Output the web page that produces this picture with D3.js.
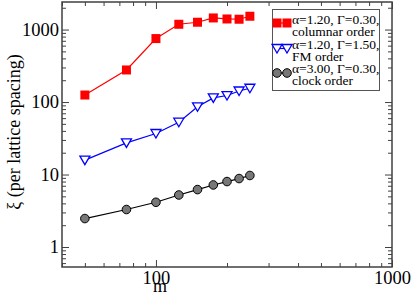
<!DOCTYPE html>
<html>
<head>
<meta charset="utf-8">
<script src="https://cdn.jsdelivr.net/npm/d3@7"></script>
<style>
  body { margin: 0; background: #fff; }
  svg text { font-family: "Liberation Serif", "Times New Roman", "DejaVu Serif", serif; }
</style>
</head>
<body>
<div id="chart"></div>
<script>
const mValues = [50, 75, 100, 125, 150, 175, 200, 225, 250];
const columnarXi = [125, 277, 751, 1183, 1262, 1446, 1400, 1388, 1527];
const fmXi = [15.8, 27.3, 36.8, 52.7, 85.9, 114, 123, 142, 155];
const clockXi = [2.47, 3.29, 4.14, 5.22, 6.2, 7.18, 8.0, 8.8, 9.7];
const legendLines = [
  ['α=1.20, Γ=0.30,', 'columnar order'],
  ['α=1.20, Γ=1.50,', 'FM order'],
  ['α=3.00, Γ=0.30,', 'clock order']
];
const xMajor = [100, 1000];
const yMajor = [1, 10, 100, 1000];

const width = 411, height = 296;
const frame = { left: 62, right: 392, top: 2, bottom: 267 };

const svg = d3.select('#chart').append('svg')
  .attr('width', width)
  .attr('height', height);

const x = d3.scaleLog().domain([40, 1000]).range([frame.left, frame.right]);
const y = d3.scaleLog().domain([0.53, 2400]).range([frame.bottom, frame.top]);

const minorX = [];
[10, 100].forEach(function (d) {
  for (let k = 2; k <= 9; k++) {
    const v = d * k;
    if (v >= 40 && v <= 1000) minorX.push(v);
  }
});
const minorY = [];
[0.1, 1, 10, 100, 1000].forEach(function (d) {
  for (let k = 2; k <= 9; k++) {
    const v = d * k;
    if (v >= 0.53 && v <= 2400) minorY.push(v);
  }
});

const axisColor = '#404040';

function styleAxis(g) {
  g.select('.domain').remove();
  g.selectAll('.tick line').attr('stroke', axisColor).attr('stroke-width', 1);
  g.selectAll('.tick text')
    .attr('fill', '#000')
    .attr('font-family', '"Liberation Serif", "Times New Roman", serif')
    .attr('font-size', 18.5);
}

// bottom axis
svg.append('g')
  .attr('transform', 'translate(0,' + frame.bottom + ')')
  .call(d3.axisBottom(x).tickValues(xMajor).tickFormat(d3.format('d')).tickSizeInner(-7).tickPadding(4))
  .call(styleAxis);
svg.append('g')
  .attr('transform', 'translate(0,' + frame.bottom + ')')
  .call(d3.axisBottom(x).tickValues(minorX).tickFormat('').tickSizeInner(-4))
  .call(styleAxis);
// top axis
svg.append('g')
  .attr('transform', 'translate(0,' + frame.top + ')')
  .call(d3.axisTop(x).tickValues(xMajor).tickFormat('').tickSizeInner(-7))
  .call(styleAxis);
svg.append('g')
  .attr('transform', 'translate(0,' + frame.top + ')')
  .call(d3.axisTop(x).tickValues(minorX).tickFormat('').tickSizeInner(-4))
  .call(styleAxis);
// left axis
svg.append('g')
  .attr('transform', 'translate(' + frame.left + ',0)')
  .call(d3.axisLeft(y).tickValues(yMajor).tickFormat(d3.format('d')).tickSizeInner(-7).tickPadding(3))
  .call(styleAxis);
svg.append('g')
  .attr('transform', 'translate(' + frame.left + ',0)')
  .call(d3.axisLeft(y).tickValues(minorY).tickFormat('').tickSizeInner(-4))
  .call(styleAxis);
// right axis
svg.append('g')
  .attr('transform', 'translate(' + frame.right + ',0)')
  .call(d3.axisRight(y).tickValues(yMajor).tickFormat('').tickSizeInner(-7))
  .call(styleAxis);
svg.append('g')
  .attr('transform', 'translate(' + frame.right + ',0)')
  .call(d3.axisRight(y).tickValues(minorY).tickFormat('').tickSizeInner(-4))
  .call(styleAxis);

// frame
svg.append('rect')
  .attr('x', frame.left)
  .attr('y', frame.top)
  .attr('width', frame.right - frame.left)
  .attr('height', frame.bottom - frame.top)
  .attr('fill', 'none')
  .attr('stroke', axisColor)
  .attr('stroke-width', 1.5);

// axis titles
svg.append('text')
  .attr('x', 160)
  .attr('y', 292)
  .attr('text-anchor', 'middle')
  .attr('font-size', 18)
  .text('m');
svg.append('text')
  .attr('transform', 'translate(20,132) rotate(-90)')
  .attr('text-anchor', 'middle')
  .attr('font-size', 18)
  .text('ξ (per lattice spacing)');

const line = d3.line()
  .x(function (d) { return x(d[0]); })
  .y(function (d) { return y(d[1]); });

const series = [
  { values: columnarXi, color: '#ff0000', marker: 'square' },
  { values: fmXi, color: '#0000ff', marker: 'triangle' },
  { values: clockXi, color: '#000000', marker: 'circle' }
];

function drawMarker(g, type, cx, cy) {
  if (type === 'square') {
    g.append('rect')
      .attr('x', cx - 4.5).attr('y', cy - 4.5)
      .attr('width', 9).attr('height', 9)
      .attr('fill', '#ff0000');
  } else if (type === 'triangle') {
    g.append('path')
      .attr('d', 'M' + (cx - 5) + ',' + (cy - 4) + 'L' + (cx + 5) + ',' + (cy - 4) + 'L' + cx + ',' + (cy + 4.5) + 'Z')
      .attr('fill', '#fff')
      .attr('stroke', '#0000ff')
      .attr('stroke-width', 1.3);
  } else {
    g.append('circle')
      .attr('cx', cx).attr('cy', cy).attr('r', 4.3)
      .attr('fill', '#777777')
      .attr('stroke', '#000')
      .attr('stroke-width', 1);
  }
}

series.forEach(function (s) {
  const pts = mValues.map(function (m, i) { return [m, s.values[i]]; });
  svg.append('path')
    .datum(pts)
    .attr('d', line)
    .attr('fill', 'none')
    .attr('stroke', s.color)
    .attr('stroke-width', 1.2);
  const g = svg.append('g');
  pts.forEach(function (p) { drawMarker(g, s.marker, x(p[0]), y(p[1])); });
});

// legend
const legend = svg.append('g');
legend.append('rect')
  .attr('x', 272.5).attr('y', 9.5)
  .attr('width', 107).attr('height', 81)
  .attr('fill', '#fff')
  .attr('stroke', '#555')
  .attr('stroke-width', 1);

legendLines.forEach(function (lines, i) {
  const top = 24 + i * 24.5;
  const s = series[i];
  const my = top - 1 + (i === 0 ? 0 : 1);
  legend.append('line')
    .attr('x1', 277).attr('x2', 287)
    .attr('y1', my).attr('y2', my)
    .attr('stroke', s.color).attr('stroke-width', 1.2);
  drawMarker(legend, s.marker, 277, my);
  drawMarker(legend, s.marker, 287, my);
  lines.forEach(function (t, j) {
    legend.append('text')
      .attr('x', 292)
      .attr('y', top + j * 12)
      .attr('font-size', 13.5)
      .text(t);
  });
});
</script>
</body>
</html>
